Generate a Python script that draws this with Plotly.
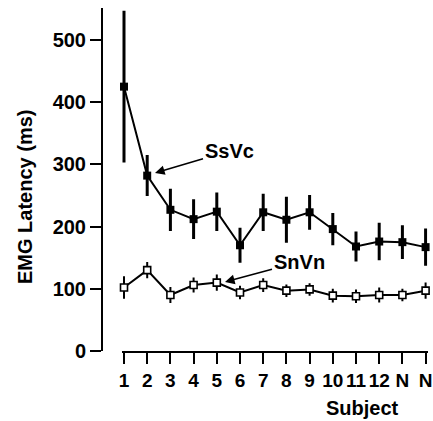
import plotly.graph_objects as go

subjects = list(range(1, 15))
tick_labels = ["1", "2", "3", "4", "5", "6", "7", "8", "9", "10", "11", "12", "N", "N"]

ssvc_mean = [425, 282, 227, 212, 224, 170, 223, 211, 223, 196, 168, 176, 175, 167]
ssvc_err = [122, 33, 34, 32, 31, 28, 30, 37, 28, 26, 24, 30, 27, 30]

snvn_mean = [102, 130, 90, 106, 110, 94, 106, 97, 99, 89, 88, 90, 90, 97]
snvn_err = [18, 13, 13, 12, 13, 11, 11, 10, 10, 11, 11, 12, 10, 13]

y_ticks = [0, 100, 200, 300, 400, 500]

W, H = 433, 421
FONT = "Liberation Sans, Arial, sans-serif"

# pixel geometry of the original
y_axis_px = 102.0
x1_px, x14_px = 124.0, 425.6
px_per_x = (x14_px - x1_px) / 13
y0_px = 351.0
y500_px = 40.0
px_per_y = (y0_px - y500_px) / 500

# plot area slightly wider than the tick span so end marks are not clipped
x_dom_px = (x1_px - 2, x14_px + 2)
x_range = [1 - 2 / px_per_x, 14 + 2 / px_per_x]
y_top_px = 8.0
y_range = [0, (y0_px - y_top_px) / px_per_y]

fig = go.Figure()

fig.add_trace(go.Scatter(
    x=subjects, y=snvn_mean, mode="lines+markers", name="SnVn",
    line=dict(color="black", width=2),
    marker=dict(symbol="square", size=7, color="white", line=dict(color="black", width=1.6)),
    error_y=dict(type="data", array=snvn_err, visible=True, color="black", thickness=2, width=0),
    cliponaxis=False,
))

fig.add_trace(go.Scatter(
    x=subjects, y=ssvc_mean, mode="lines+markers", name="SsVc",
    line=dict(color="black", width=2),
    marker=dict(symbol="square", size=8, color="black"),
    error_y=dict(type="data", array=ssvc_err, visible=True, color="black", thickness=3, width=0),
    cliponaxis=False,
))

fig.update_layout(
    template="none",
    width=W, height=H,
    margin=dict(l=0, r=0, t=0, b=0, pad=0, autoexpand=False),
    paper_bgcolor="white", plot_bgcolor="rgba(0,0,0,0)",
    showlegend=False,
    font=dict(family=FONT, color="black", size=20, weight="bold"),
    xaxis=dict(
        domain=[x_dom_px[0] / W, x_dom_px[1] / W], range=x_range, automargin=False,
        showgrid=False, zeroline=False,
        showline=True, linecolor="black", linewidth=2,
        tickmode="array", tickvals=subjects, ticktext=tick_labels,
        ticks="outside", ticklen=11, tickwidth=2, tickcolor="black",
        tickfont=dict(family=FONT, size=19, color="black", weight="bold"),
    ),
    yaxis=dict(
        domain=[(H - y0_px) / H, (H - y_top_px) / H], range=y_range, automargin=False,
        anchor="free", position=y_axis_px / W,
        showgrid=False, zeroline=False,
        showline=True, linecolor="black", linewidth=2,
        tickmode="array", tickvals=y_ticks, ticktext=[str(v) for v in y_ticks],
        ticks="outside", ticklen=11, tickwidth=2, tickcolor="black",
        tickfont=dict(family=FONT, size=20, color="black", weight="bold"),
    ),
)

# axis titles
fig.add_annotation(text="Subject", xref="paper", yref="paper",
                   x=362 / W, y=(H - 408) / H, xanchor="center", yanchor="middle",
                   showarrow=False,
                   font=dict(family=FONT, size=20, color="black", weight="bold"))
fig.add_annotation(text="EMG Latency (ms)", xref="paper", yref="paper",
                   x=25 / W, y=(H - 197) / H, xanchor="center", yanchor="middle",
                   showarrow=False, textangle=-90,
                   font=dict(family=FONT, size=20, color="black", weight="bold"))

# series labels with arrows
head1_x = 1 + (155 - x1_px) / px_per_x
head1_y = (y0_px - 173) / px_per_y
fig.add_annotation(text="SsVc", x=head1_x, y=head1_y, xref="x", yref="y",
                   ax=74, ay=-22, showarrow=True, arrowhead=2, arrowsize=1.2,
                   arrowwidth=1.6, arrowcolor="black",
                   font=dict(family=FONT, size=20, color="black", weight="bold"))

head2_x = 1 + (225 - x1_px) / px_per_x
head2_y = (y0_px - 282) / px_per_y
fig.add_annotation(text="SnVn", x=head2_x, y=head2_y, xref="x", yref="y",
                   ax=74, ay=-20, showarrow=True, arrowhead=2, arrowsize=1.2,
                   arrowwidth=1.6, arrowcolor="black",
                   font=dict(family=FONT, size=20, color="black", weight="bold"))

fig.write_html("out.html")
